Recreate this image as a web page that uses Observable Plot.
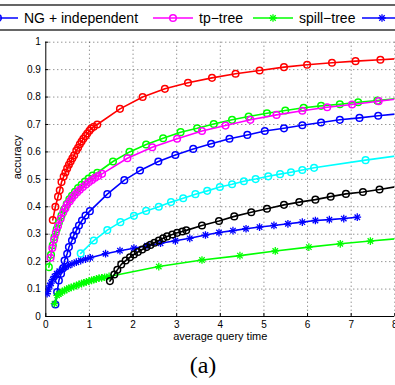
<!DOCTYPE html>
<html><head><meta charset="utf-8">
<script src="https://cdn.jsdelivr.net/npm/d3@7"></script>
<script src="https://cdn.jsdelivr.net/npm/@observablehq/plot@0.6"></script>
<style>
body{margin:0;background:#fff;width:395px;height:385px;overflow:hidden;position:relative;font-family:"Liberation Sans",Arial,sans-serif}
#legend{position:absolute;left:0;top:0}
#chart{position:absolute;left:0;top:31px}
#cap{position:absolute;left:0;width:406px;text-align:center;top:351px;font-family:"Liberation Serif","DejaVu Serif",serif;font-size:24px;line-height:28px}
</style></head><body>
<div id="legend"></div><div id="chart"></div><div id="cap">(a)</div>
<script>
// ---- data ----
const xTicks = [0,1,2,3,4,5,6,7,8];
const yTicks = [0,0.1,0.2,0.3,0.4,0.5,0.6,0.7,0.8,0.9,1];
const xLabel = "average query time";
const yLabel = "accuracy";
const caption = "(a)";
const legendLabels = ["NG + independent","tp\u2212tree","spill\u2212tree",""];

const redPts = [[0.16,0.352],[0.22,0.40],[0.28,0.437],[0.32,0.46],[0.36,0.49],[0.41,0.51],[0.45,0.525],[0.49,0.54],[0.53,0.553],[0.57,0.565],[0.61,0.577],[0.65,0.588],[0.70,0.605],[0.74,0.615],[0.78,0.628],[0.82,0.638],[0.86,0.648],[0.91,0.658],[0.95,0.667],[1.00,0.677],[1.04,0.685],[1.10,0.692],[1.18,0.70],[1.70,0.757],[2.22,0.80],[2.73,0.83],[3.26,0.852],[3.81,0.870],[4.35,0.885],[4.90,0.897],[5.46,0.909],[5.99,0.918],[6.56,0.925],[7.10,0.931],[7.67,0.936],[8.2,0.941]];
const blueCirclePts = [[0.22,0.044],[0.26,0.089],[0.30,0.131],[0.35,0.156],[0.40,0.177],[0.43,0.204],[0.49,0.229],[0.53,0.253],[0.60,0.277],[0.64,0.295],[0.70,0.313],[0.76,0.332],[0.83,0.35],[0.91,0.368],[1.01,0.384],[1.41,0.446],[1.80,0.497],[2.16,0.532],[2.58,0.565],[2.97,0.589],[3.38,0.611],[3.79,0.63],[4.21,0.648],[4.62,0.662],[5.02,0.676],[5.46,0.686],[5.88,0.697],[6.31,0.707],[6.74,0.717],[7.19,0.724],[7.62,0.732],[8.2,0.741]];
const greenCirclePts = [[0.07,0.18],[0.12,0.225],[0.16,0.26],[0.20,0.29],[0.25,0.318],[0.30,0.343],[0.36,0.368],[0.42,0.39],[0.48,0.41],[0.54,0.427],[0.60,0.44],[0.67,0.455],[0.74,0.468],[0.82,0.48],[0.90,0.492],[0.98,0.503],[1.07,0.514],[1.18,0.524],[1.54,0.565],[1.92,0.60],[2.30,0.627],[2.69,0.65],[3.09,0.672],[3.47,0.686],[3.85,0.702],[4.27,0.717],[4.65,0.729],[5.07,0.741],[5.49,0.751],[5.91,0.761],[6.31,0.768],[6.74,0.774],[7.16,0.781],[7.60,0.787],[8.2,0.797]];
const magentaPts = [[0.11,0.214],[0.15,0.25],[0.19,0.28],[0.23,0.305],[0.28,0.33],[0.34,0.356],[0.40,0.38],[0.45,0.395],[0.49,0.408],[0.55,0.42],[0.60,0.432],[0.66,0.443],[0.72,0.453],[0.78,0.462],[0.85,0.472],[0.92,0.481],[0.99,0.49],[1.06,0.498],[1.13,0.506],[1.20,0.512],[1.29,0.52],[1.87,0.577],[2.44,0.617],[3.01,0.648],[3.58,0.676],[4.12,0.696],[4.69,0.717],[5.29,0.735],[5.88,0.75],[6.45,0.763],[7.02,0.773],[7.63,0.785],[8.2,0.796]];
const cyanPts = [[0.80,0.23],[1.10,0.277],[1.41,0.315],[1.71,0.344],[2.02,0.367],[2.30,0.385],[2.59,0.40],[2.87,0.417],[3.15,0.431],[3.43,0.446],[3.70,0.458],[3.99,0.472],[4.27,0.482],[4.54,0.493],[4.81,0.501],[5.10,0.511],[5.37,0.519],[5.62,0.526],[5.88,0.534],[6.15,0.542],[7.33,0.570],[8.2,0.589]];
const blackPts = [[1.47,0.129],[1.57,0.153],[1.64,0.17],[1.73,0.19],[1.83,0.204],[1.93,0.216],[2.02,0.226],[2.11,0.235],[2.21,0.244],[2.31,0.253],[2.40,0.261],[2.49,0.269],[2.59,0.277],[2.69,0.285],[2.78,0.292],[2.90,0.299],[3.01,0.305],[3.13,0.31],[3.22,0.314],[3.58,0.332],[3.97,0.348],[4.32,0.365],[4.71,0.38],[5.07,0.393],[5.46,0.407],[5.81,0.417],[6.18,0.426],[6.53,0.437],[6.88,0.447],[7.27,0.454],[7.65,0.463],[8.2,0.478]];
const greenStarPts = [[0.20,0.047],[0.26,0.077],[0.30,0.082],[0.34,0.086],[0.38,0.091],[0.43,0.095],[0.48,0.099],[0.53,0.103],[0.58,0.106],[0.64,0.109],[0.70,0.113],[0.76,0.117],[0.82,0.12],[0.87,0.123],[0.93,0.126],[0.99,0.129],[1.05,0.132],[1.10,0.134],[1.16,0.137],[1.22,0.14],[1.28,0.141],[1.35,0.143],[1.45,0.146],[2.59,0.182],[3.58,0.206],[4.45,0.222],[5.26,0.239],[6.03,0.253],[6.75,0.265],[7.44,0.275],[8.2,0.286]];
const blueStarPts = [[0.03,0.083],[0.06,0.10],[0.09,0.112],[0.12,0.122],[0.16,0.135],[0.20,0.146],[0.25,0.156],[0.31,0.165],[0.38,0.172],[0.45,0.18],[0.52,0.186],[0.60,0.192],[0.70,0.198],[0.80,0.204],[0.91,0.209],[1.02,0.214],[1.37,0.229],[1.70,0.24],[2.02,0.249],[2.32,0.258],[2.63,0.267],[2.97,0.276],[3.30,0.285],[3.66,0.297],[3.97,0.306],[4.29,0.313],[4.59,0.32],[4.90,0.326],[5.23,0.332],[5.55,0.338],[5.88,0.344],[6.18,0.35],[6.50,0.353],[6.83,0.357],[7.14,0.362]];

const series = [
  {pts: redPts, color: "#ff0000", marker: "circle"},
  {pts: blueCirclePts, color: "#0000ff", marker: "circle"},
  {pts: greenCirclePts, color: "#00ff00", marker: "circle"},
  {pts: magentaPts, color: "#ff00ff", marker: "circle"},
  {pts: greenStarPts, color: "#00ff00", marker: "star"},
  {pts: blueStarPts, color: "#0000ff", marker: "star"},
  {pts: cyanPts, color: "#00ffff", marker: "circle"},
  {pts: blackPts, color: "#000000", marker: "circle"}
];
const legendItems = [
  {label: legendLabels[0], color: "#0000ff", marker: "circle", x0: -22},
  {label: legendLabels[1], color: "#ff00ff", marker: "circle", x0: 153},
  {label: legendLabels[2], color: "#00ff00", marker: "star", x0: 253},
  {label: legendLabels[3], color: "#0000ff", marker: "star", x0: 362}
];

// ---- chart ----
const marks = [
  Plot.ruleX(xTicks.slice(1), {stroke: "#000", strokeOpacity: 0.6, strokeDasharray: "1,3"}),
  Plot.ruleY(yTicks.slice(1), {stroke: "#000", strokeOpacity: 0.6, strokeDasharray: "1,3"}),
  Plot.ruleX([0], {y1: 0, y2: 1, stroke: "#000", strokeWidth: 1}),
  Plot.ruleY([0], {x1: 0, x2: 8, stroke: "#000", strokeWidth: 1}),
  Plot.ruleY(yTicks, {x1: 0, x2: 0.07, stroke: "#000"}),
  Plot.ruleX(xTicks, {y1: 0, y2: 0.011, stroke: "#000"}),
  Plot.axisX(xTicks, {tickSize: 0, tickPadding: 4, fontSize: 10, label: null, tickFormat: d => String(d)}),
  Plot.axisY(yTicks, {tickSize: 0, tickPadding: 5, fontSize: 10, label: null, tickFormat: d => String(d)}),
  Plot.text([xLabel], {frameAnchor: "bottom", dy: 23, fontSize: 11, text: d => d}),
  Plot.text([yLabel], {frameAnchor: "left", dx: -28, rotate: -90, fontSize: 11, text: d => d})
];
for (const s of series) {
  marks.push(Plot.line(s.pts, {x: d => d[0], y: d => d[1], stroke: s.color, strokeWidth: 1.6, clip: true}));
  if (s.marker === "circle") {
    marks.push(Plot.dot(s.pts, {x: d => d[0], y: d => d[1], r: 3.3, stroke: s.color, strokeWidth: 1.5, fill: "none", clip: true}));
  } else {
    marks.push(Plot.dot(s.pts, {x: d => d[0], y: d => d[1], r: 2.6, symbol: "plus", stroke: s.color, strokeWidth: 1.3, clip: true}));
    marks.push(Plot.dot(s.pts, {x: d => d[0], y: d => d[1], r: 2.6, symbol: "times", stroke: s.color, strokeWidth: 1.3, clip: true}));
  }
}

const chart = Plot.plot({
  width: 395, height: 320,
  marginTop: 10.7, marginLeft: 45.3, marginRight: 0.7, marginBottom: 35,
  x: {domain: [0, 8]},
  y: {domain: [0, 1]},
  style: {fontFamily: "'Liberation Sans', Arial, sans-serif", fontSize: "10px", color: "#000", background: "transparent", overflow: "visible"},
  marks
});
document.getElementById("chart").append(chart);

// ---- legend ----
const lg = d3.select("#legend").append("svg").attr("width", 395).attr("height", 31)
  .style("font-family", "'Liberation Sans', Arial, sans-serif");
lg.append("rect").attr("x", -5).attr("y", 5).attr("width", 410).attr("height", 25)
  .attr("fill", "none").attr("stroke", "#000").attr("stroke-width", 1.2);
for (const it of legendItems) {
  const g = lg.append("g");
  g.append("line").attr("x1", it.x0).attr("x2", it.x0 + 40).attr("y1", 18).attr("y2", 18)
    .attr("stroke", it.color).attr("stroke-width", 1.6);
  const cx = it.x0 + 20;
  if (it.marker === "circle") {
    g.append("circle").attr("cx", cx).attr("cy", 18).attr("r", 3.3).attr("fill", "none")
      .attr("stroke", it.color).attr("stroke-width", 1.5);
  } else {
    g.append("path").attr("d", d3.symbol(d3.symbolPlus, 2.6 * 2.6 * Math.PI)()).attr("transform", `translate(${cx},18)`)
      .attr("fill", "none").attr("stroke", it.color).attr("stroke-width", 1.3);
    g.append("path").attr("d", d3.symbol(d3.symbolTimes, 2.6 * 2.6 * Math.PI)()).attr("transform", `translate(${cx},18)`)
      .attr("fill", "none").attr("stroke", it.color).attr("stroke-width", 1.3);
  }
  g.append("text").attr("x", it.x0 + 46).attr("y", 23).attr("font-size", 14).attr("fill", "#000").text(it.label);
}
document.getElementById("cap").textContent = caption;
</script>
</body></html>
